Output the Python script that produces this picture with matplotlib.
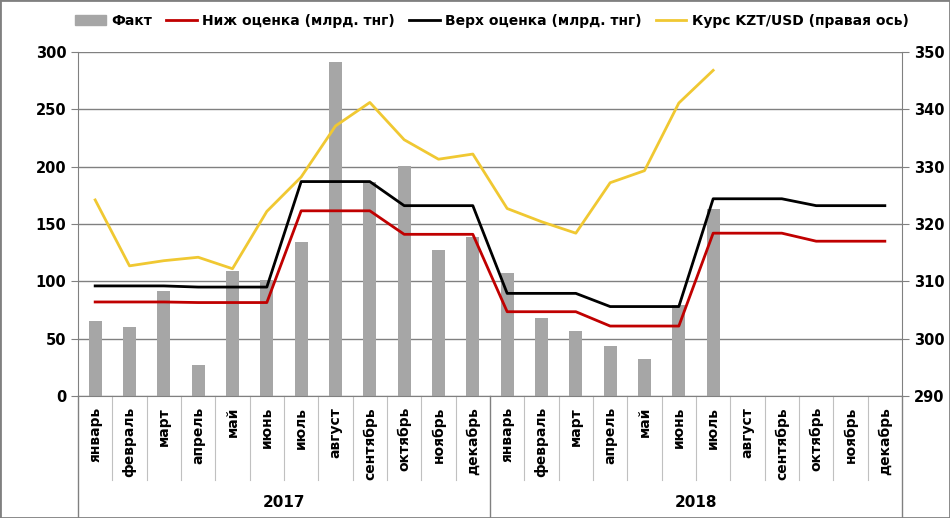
import matplotlib
matplotlib.use("Agg")
import matplotlib.pyplot as plt
from matplotlib.patches import Patch, Rectangle
from matplotlib.lines import Line2D
import matplotlib.transforms as mtransforms

# Данные
months = ["январь", "февраль", "март", "апрель", "май", "июнь", "июль", "август",
          "сентябрь", "октябрь", "ноябрь", "декабрь"]
years = ["2017", "2018"]
categories = months + months

fakt = [65, 60, 92, 27, 109, 101, 134, 291, 187, 201, 127, 139,
        107, 68, 57, 44, 32, 79, 163]
nizh = [82, 82, 82, 81.5, 81.5, 81.5, 161.5, 161.5, 161.5, 141, 141, 141,
        73.5, 73.5, 73.5, 61, 61, 61, 142, 142, 142, 135, 135, 135]
verh = [96, 96, 96, 95, 95, 95, 187, 187, 187, 166, 166, 166,
        89.5, 89.5, 89.5, 78, 78, 78, 172, 172, 172, 166, 166, 166]
kurs = [324.2, 312.7, 313.6, 314.2, 312.2, 322.2, 328.2, 337.1, 341.2, 334.7, 331.3, 332.2,
        322.7, 320.4, 318.4, 327.2, 329.3, 341.1, 346.8]

fig = plt.figure(figsize=(9.5, 5.18), dpi=100)
ax = fig.add_axes([78 / 950, 1 - 396 / 518, 824 / 950, 344 / 518])
ax2 = ax.twinx()

x = list(range(len(categories)))

ax.bar(x[:len(fakt)], fakt, width=0.38, color="#a6a6a6", zorder=2)
ax.plot(x, nizh, color="#c00000", lw=2, zorder=3)
ax.plot(x, verh, color="#000000", lw=2, zorder=3)
ax2.plot(x[:len(kurs)], kurs, color="#f0c832", lw=2, zorder=3)

ax.set_xlim(-0.5, len(categories) - 0.5)
ax.set_ylim(0, 300)
ax.set_yticks(range(0, 301, 50))
ax2.set_ylim(290, 350)
ax2.set_yticks(range(290, 351, 10))

ax.grid(axis="y", color="#808080", lw=1, zorder=0)
ax.set_axisbelow(True)

for a in (ax, ax2):
    for s in a.spines.values():
        s.set_visible(False)
ax.spines["left"].set_visible(True)
ax.spines["bottom"].set_visible(True)
ax2.spines["right"].set_visible(True)
for s in (ax.spines["left"], ax.spines["bottom"], ax2.spines["right"]):
    s.set_color("#808080")

ax.tick_params(axis="y", length=5, color="#808080", labelsize=10.5)
ax2.tick_params(axis="y", length=5, color="#808080", labelsize=10.5)
for lbl in ax.get_yticklabels() + ax2.get_yticklabels():
    lbl.set_fontweight("bold")

ax.set_xticks(x)
ax.set_xticklabels(categories, rotation=90, fontsize=10, fontweight="bold", va="top")
ax.tick_params(axis="x", length=0, pad=8)

# разделители категорий и лет
trans = mtransforms.blended_transform_factory(ax.transData, ax.transAxes)
for i in range(len(categories) + 1):
    if i % 12 == 0:
        ax.plot([i - 0.5, i - 0.5], [0, -0.355], color="#808080", lw=1,
                transform=trans, clip_on=False)
    else:
        ax.plot([i - 0.5, i - 0.5], [0, -0.244], color="#c0c0c0", lw=0.8,
                transform=trans, clip_on=False)

for k, yr in enumerate(years):
    ax.text(k * 12 + 5.5, -0.31, yr, transform=trans, ha="center", va="center",
            fontsize=11, fontweight="bold")

handles = [Patch(color="#a6a6a6"),
           Line2D([], [], color="#c00000", lw=2),
           Line2D([], [], color="#000000", lw=2),
           Line2D([], [], color="#f0c832", lw=2)]
labels = ["Факт", "Ниж оценка (млрд. тнг)", "Верх оценка (млрд. тнг)",
          "Курс KZT/USD (правая ось)"]
fig.legend(handles, labels, loc="center", bbox_to_anchor=(0.518, 1 - 21 / 518),
           ncol=4, frameon=False, handlelength=2.2, columnspacing=1.0,
           handletextpad=0.4, prop={"weight": "bold", "size": 10})

fig.patches.append(Rectangle((0, 0), 1, 1, transform=fig.transFigure, fill=False,
                             edgecolor="#808080", lw=2))

fig.savefig("out.png", dpi=100)
